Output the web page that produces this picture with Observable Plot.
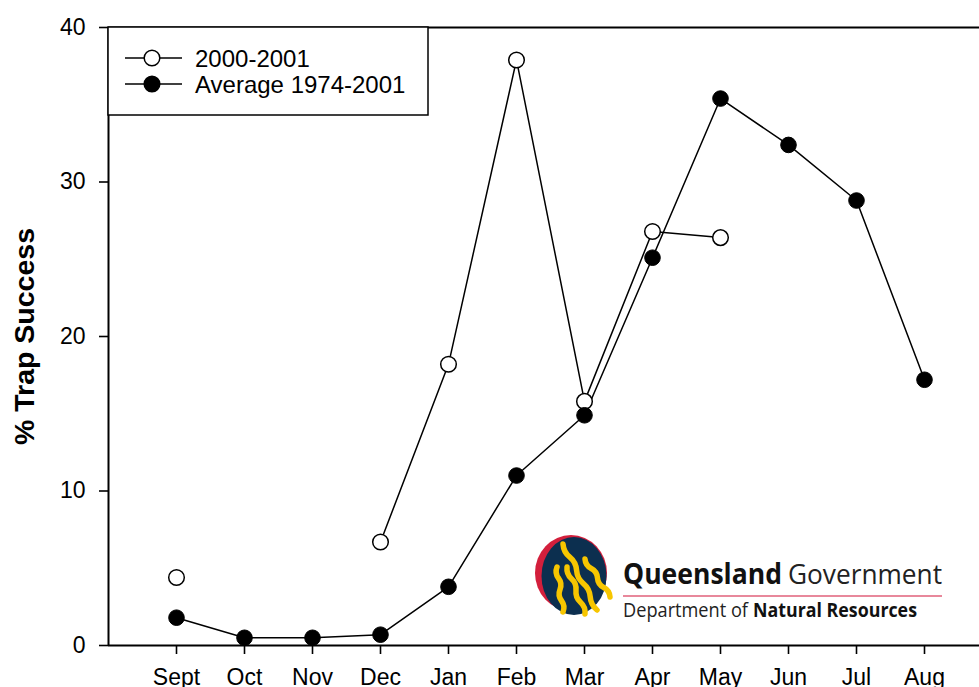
<!DOCTYPE html>
<html>
<head>
<meta charset="utf-8">
<script src="https://cdn.jsdelivr.net/npm/d3@7"></script>
<script src="https://cdn.jsdelivr.net/npm/@observablehq/plot@0.6"></script>
<style>
  html, body { margin: 0; padding: 0; background: white; overflow: hidden; }
  #wrap { position: relative; width: 979px; height: 687px; }
  #wrap svg.overlay { position: absolute; left: 0; top: 0; pointer-events: none; }
  #wrap g[aria-label^="x-axis"] line, #wrap g[aria-label^="x-axis"] path,
  #wrap g[aria-label^="y-axis"] line, #wrap g[aria-label^="y-axis"] path { stroke-width: 1.6; }
</style>
</head>
<body>
<div id="wrap"></div>
<script>
// ---- data ----
const months = ["Sept", "Oct", "Nov", "Dec", "Jan", "Feb", "Mar", "Apr", "May", "Jun", "Jul", "Aug"];
const season2000 = [4.4, null, null, 6.7, 18.2, 37.9, 15.8, 26.8, 26.4, null, null, null];
const average = [1.8, 0.5, 0.5, 0.7, 3.8, 11.0, 14.9, 25.1, 35.4, 32.4, 28.8, 17.2];
const seriesNames = ["2000-2001", "Average 1974-2001"];
const yTicks = [0, 10, 20, 30, 40];
const yLabel = "% Trap Success";

const d2000 = months.map((m, i) => ({i: i + 1, v: season2000[i]}));
const dAvg = months.map((m, i) => ({i: i + 1, v: average[i]}));

const W = 979, H = 687;
const font = "'Liberation Sans', Arial, Helvetica, sans-serif";

const chart = Plot.plot({
  width: W,
  height: H,
  marginLeft: 108,
  marginRight: 0,
  marginTop: 27,
  marginBottom: 42,
  style: {fontFamily: font, fontSize: "23px", color: "black", background: "white", overflow: "hidden"},
  x: {domain: [0, 13], range: [108, 992], ticks: months.map((m, i) => i + 1),
      tickFormat: i => months[i - 1], tickSize: 9, tickPadding: 14, label: null},
  y: {domain: [0, 40], ticks: yTicks, tickSize: 9, tickPadding: 14, label: null},
  marks: [
    Plot.ruleY([0, 40], {stroke: "black", strokeWidth: 2}),
    Plot.ruleX([0], {stroke: "black", strokeWidth: 2}),
    Plot.line(d2000, {x: "i", y: "v", stroke: "black", strokeWidth: 1.5}),
    Plot.line(dAvg, {x: "i", y: "v", stroke: "black", strokeWidth: 1.5}),
    Plot.dot(d2000, {x: "i", y: "v", r: 7.8, fill: "white", stroke: "black", strokeWidth: 1.5}),
    Plot.dot(dAvg, {x: "i", y: "v", r: 7.8, fill: "black", stroke: "black", strokeWidth: 1})
  ]
});
document.getElementById("wrap").appendChild(chart);

// ---- overlay: axis title, legend, logo ----
const ov = d3.select("#wrap").append("svg")
  .attr("class", "overlay").attr("width", W).attr("height", H)
  .style("font-family", font);

ov.append("text").attr("transform", "translate(24,336.5) rotate(-90)")
  .attr("text-anchor", "middle").attr("dy", "0.36em")
  .attr("font-size", 28.5).attr("font-weight", "bold").attr("fill", "black").text(yLabel);

// legend
const lg = ov.append("g");
lg.append("rect").attr("x", 108).attr("y", 27).attr("width", 320).attr("height", 88)
  .attr("fill", "white").attr("stroke", "black").attr("stroke-width", 1.5);
seriesNames.forEach((name, k) => {
  const yy = 58 + k * 26;
  lg.append("line").attr("x1", 125).attr("x2", 182).attr("y1", yy).attr("y2", yy)
    .attr("stroke", "black").attr("stroke-width", 1.5);
  lg.append("circle").attr("cx", 152).attr("cy", yy).attr("r", 7.8)
    .attr("fill", k === 0 ? "white" : "black").attr("stroke", "black").attr("stroke-width", 1.5);
  lg.append("text").attr("x", 195).attr("y", yy).attr("dy", "0.36em")
    .attr("font-size", 24).attr("fill", "black").text(name);
});

// logo (decoration)
const logo = ov.append("g");
logo.append("ellipse").attr("cx", 571).attr("cy", 573).attr("rx", 36).attr("ry", 38).attr("fill", "#d31f3c");
logo.append("ellipse").attr("cx", 574).attr("cy", 576).attr("rx", 32.5).attr("ry", 39).attr("fill", "#0c2f4f");
function wavePath(x0, y0, x1, y1, n, amp) {
  const dx = x1 - x0, dy = y1 - y0, L = Math.hypot(dx, dy);
  const px = -dy / L * amp, py = dx / L * amp;
  let p = `M${x0},${y0}`;
  for (let k = 0; k < n; k++) {
    const ta = (k + 0.5) / n, tb = (k + 1) / n, s = k % 2 ? -1 : 1;
    p += ` Q${x0 + dx * ta + s * px},${y0 + dy * ta + s * py} ${x0 + dx * tb},${y0 + dy * tb}`;
  }
  return p;
}
[[563, 544, 597, 610, 5], [585, 559, 610, 597, 4], [557, 567, 563, 612, 4], [567, 567, 585, 614, 4]]
  .forEach(([a, b, c, d, n]) => logo.append("path").attr("d", wavePath(a, b, c, d, n, 3.2))
    .attr("fill", "none").attr("stroke", "#f7c600").attr("stroke-width", 5.5).attr("stroke-linecap", "round"));
const lf = "'Open Sans', 'Noto Sans', sans-serif";
logo.append("text").attr("x", 623).attr("y", 584).attr("font-family", lf).attr("font-weight", "bold")
  .attr("font-size", 29).attr("textLength", 159).attr("lengthAdjust", "spacingAndGlyphs")
  .attr("fill", "#111").text("Queensland");
logo.append("text").attr("x", 788).attr("y", 584).attr("font-family", lf)
  .attr("font-size", 28).attr("textLength", 154).attr("lengthAdjust", "spacingAndGlyphs")
  .attr("fill", "#222").text("Government");
logo.append("line").attr("x1", 623).attr("x2", 942).attr("y1", 596).attr("y2", 596)
  .attr("stroke", "#e0607a").attr("stroke-width", 1.5);
logo.append("text").attr("x", 623).attr("y", 617).attr("font-family", lf)
  .attr("font-size", 20).attr("textLength", 125).attr("lengthAdjust", "spacingAndGlyphs")
  .attr("fill", "#222").text("Department of");
logo.append("text").attr("x", 753).attr("y", 617).attr("font-family", lf).attr("font-weight", "bold")
  .attr("font-size", 20).attr("textLength", 164).attr("lengthAdjust", "spacingAndGlyphs")
  .attr("fill", "#111").text("Natural Resources");
</script>
</body>
</html>
